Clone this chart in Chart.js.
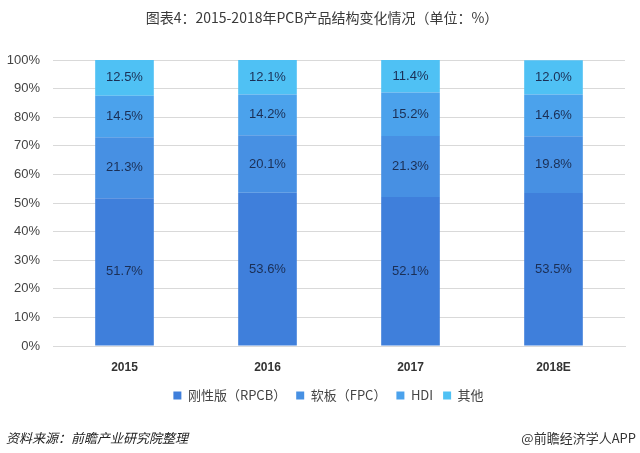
<!DOCTYPE html>
<html>
<head>
<meta charset="utf-8">
<script src="https://cdn.jsdelivr.net/npm/chart.js@4.4.1/dist/chart.umd.min.js"></script>
<style>
  html, body { margin: 0; padding: 0; background: #fff; }
  #wrap { position: relative; width: 640px; height: 453px; }
  #foot-left { position: absolute; left: 6px; top: 428px; font: italic 13px "Noto Sans CJK SC", sans-serif; color: #222; }
  #foot-right { position: absolute; right: 4px; top: 428px; font: 13px "Noto Sans CJK SC", sans-serif; color: #333; }
</style>
</head>
<body>
<div id="wrap">
  <canvas id="pcbChart" width="640" height="453"></canvas>
  <div id="foot-left">资料来源：前瞻产业研究院整理</div>
  <div id="foot-right">@前瞻经济学人APP</div>
</div>
<script>
const years = ["2015", "2016", "2017", "2018E"];
const rigidPcb = [51.7, 53.6, 52.1, 53.5];
const flexPcb = [21.3, 20.1, 21.3, 19.8];
const hdi = [14.5, 14.2, 15.2, 14.6];
const others = [12.5, 12.1, 11.4, 12.0];
const seriesNames = ["刚性版（RPCB）", "软板（FPC）", "HDI", "其他"];
const yTicks = [0, 10, 20, 30, 40, 50, 60, 70, 80, 90, 100];

const colors = ["#3f7fdb", "#4790e3", "#4ba2ec", "#4fc1f4"];

// draws the value inside each bar segment + title
const labelPlugin = {
    id: "segLabels",
    afterLayout(chart) {
        // nudge legend like the original
        chart.legend.left += 16;
        chart.legend.right += 16;
        chart.legend.top -= 7;
        chart.legend.bottom -= 7;
    },
    afterDatasetsDraw(chart) {
        const ctx = chart.ctx;
        ctx.save();
        ctx.font = "13px 'Liberation Sans', Arial, sans-serif";
        ctx.fillStyle = "#1b2f55";
        ctx.textAlign = "center";
        ctx.textBaseline = "middle";
        chart.data.datasets.forEach((ds, i) => {
            chart.getDatasetMeta(i).data.forEach((bar, j) => {
                const mid = (bar.y + bar.base) / 2;
                ctx.fillText(ds.data[j].toFixed(1) + "%", bar.x, mid);
            });
        });
        ctx.font = "14px 'Noto Sans CJK SC', sans-serif";
        ctx.fillStyle = "#3a3a3a";
        ctx.fillText("图表4：2015-2018年PCB产品结构变化情况（单位：%）", 322, 18);
        ctx.restore();
    }
};

new Chart(document.getElementById("pcbChart"), {
    type: "bar",
    data: {
        labels: years,
        datasets: [rigidPcb, flexPcb, hdi, others].map((d, i) => ({
            label: seriesNames[i],
            data: d,
            backgroundColor: colors[i],
            categoryPercentage: 1,
            barPercentage: 0.41
        }))
    },
    options: {
        responsive: false,
        animation: false,
        layout: { padding: { top: 60, right: 15, left: 0, bottom: 34 } },
        plugins: {
            tooltip: { enabled: false },
            legend: {
                position: "bottom",
                labels: {
                    boxWidth: 8,
                    boxHeight: 8,
                    padding: 10,
                    color: "#444",
                    font: { size: 13, family: "'Noto Sans CJK SC', sans-serif" }
                }
            }
        },
        scales: {
            x: {
                stacked: true,
                afterFit(axis) { axis.height = 40; },
                grid: { display: false },
                border: { color: "#d9d9d9" },
                ticks: {
                    color: "#333",
                    autoSkip: false,
                    maxRotation: 0,
                    font: { size: 12, weight: "bold", family: "'Liberation Sans', Arial, sans-serif" },
                    padding: 6
                }
            },
            y: {
                stacked: true,
                min: 0,
                max: 100,
                afterFit(axis) { axis.width = 53; },
                afterBuildTicks(axis) { axis.ticks = yTicks.map(v => ({ value: v })); },
                grid: { color: "#d9d9d9", drawTicks: false },
                border: { display: false },
                ticks: {
                    color: "#444",
                    padding: 13,
                    font: { size: 13, family: "'Liberation Sans', Arial, sans-serif" },
                    callback: v => v + "%"
                }
            }
        }
    },
    plugins: [labelPlugin]
});
</script>
</body>
</html>
